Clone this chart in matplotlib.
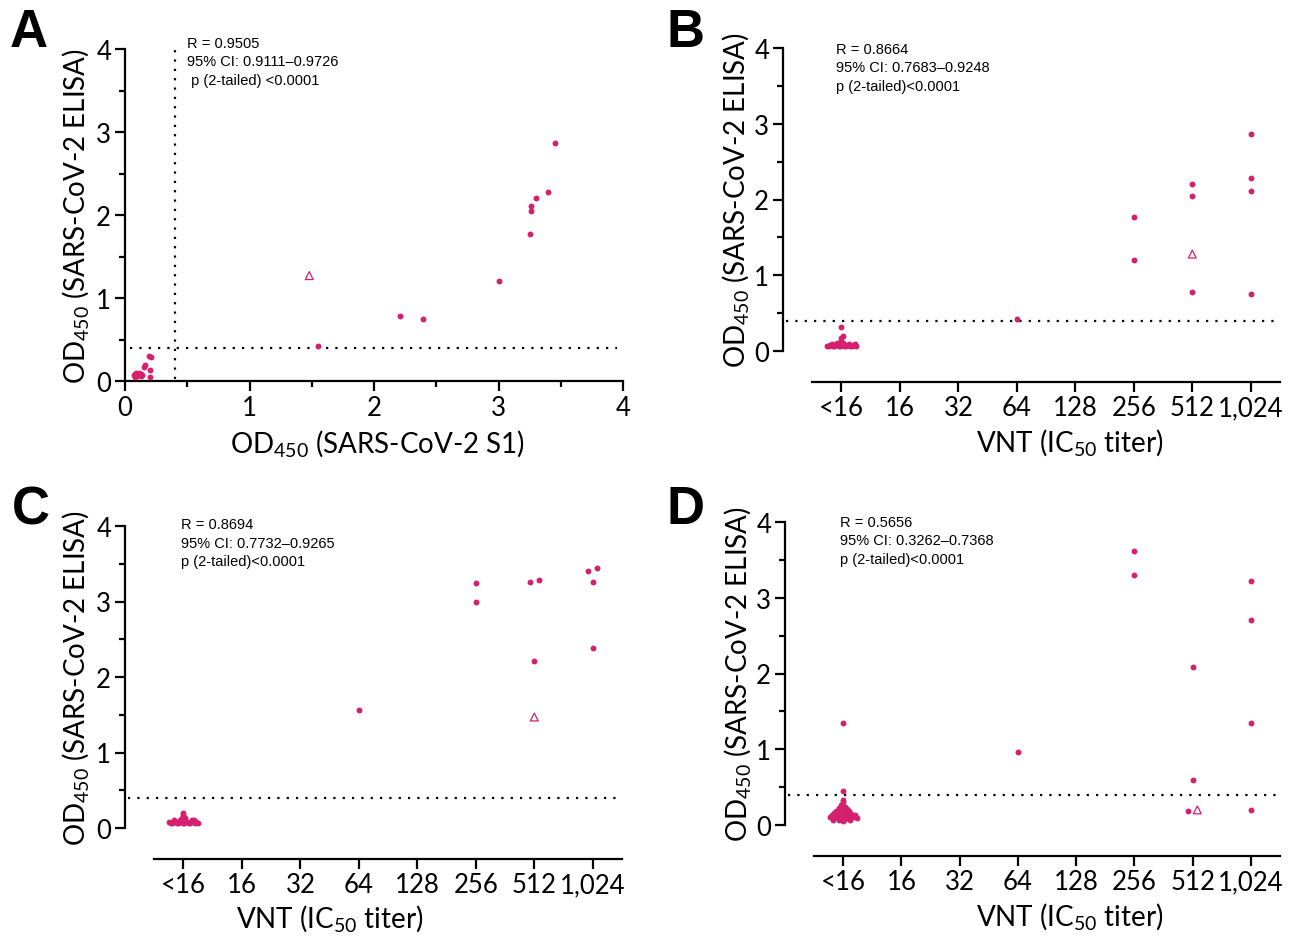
import matplotlib
matplotlib.use('Agg')
import matplotlib.pyplot as plt
from matplotlib.ticker import MultipleLocator

plt.rcParams['font.family'] = ['Lato', 'DejaVu Sans']
plt.rcParams['mathtext.default'] = 'regular'

W, H = 1293, 937
PINK = '#D4206E'

cats = ['<16', '16', '32', '64', '128', '256', '512', '1,024']

# panel A: S1 OD vs ELISA OD
a_s1 = [3.45, 3.40, 3.30, 3.26, 3.26, 3.25, 3.00, 2.21, 2.39, 1.55]
a_elisa = [2.87, 2.28, 2.21, 2.11, 2.05, 1.77, 1.20, 0.78, 0.75, 0.42]
a_neg_s1 = [0.07, 0.08, 0.09, 0.10, 0.11, 0.12, 0.13, 0.14, 0.08, 0.10,
            0.12, 0.09, 0.15, 0.16, 0.19, 0.21, 0.20, 0.20, 0.11, 0.13]
a_neg_elisa = [0.07, 0.09, 0.06, 0.08, 0.10, 0.07, 0.08, 0.07, 0.05, 0.06,
               0.09, 0.10, 0.17, 0.19, 0.30, 0.29, 0.13, 0.05, 0.07, 0.06]
a_tri = (1.48, 1.27)

# panel B: VNT vs ELISA OD
b_pos = [7, 7, 7, 7, 6, 6, 6, 5, 5, 3]
b_val = [2.87, 2.29, 2.11, 0.75, 2.21, 2.05, 0.78, 1.77, 1.20, 0.42]
b_neg_off = [-0.25, -0.2, -0.15, -0.1, -0.05, 0, 0.05, 0.1, 0.15, 0.2, 0.25,
             -0.22, -0.12, -0.02, 0.08, 0.18, -0.17, 0.13, 0.23, -0.07, 0.03,
             0, 0, 0.02, 0]
b_neg_val = [0.07, 0.08, 0.07, 0.08, 0.07, 0.08, 0.07, 0.08, 0.07, 0.08, 0.07,
             0.06, 0.06, 0.06, 0.06, 0.06, 0.09, 0.09, 0.09, 0.10, 0.10,
             0.13, 0.17, 0.20, 0.32]
b_tri = (6, 1.28)

# panel C: VNT vs S1 OD
c_pos = [6.92, 7.08, 7.0, 7.0, 5.92, 6.08, 6.0, 5.0, 5.0, 3.0]
c_val = [3.40, 3.45, 3.26, 2.38, 3.26, 3.29, 2.21, 3.25, 3.00, 1.56]
c_neg_off = [-0.24, -0.19, -0.14, -0.09, -0.04, 0.01, 0.06, 0.11, 0.16, 0.21, 0.24,
             -0.21, -0.11, -0.01, 0.09, 0.19, -0.16, -0.06, 0.14, 0.18,
             -0.02, 0.02, 0.0, 0.0]
c_neg_val = [0.08, 0.07, 0.08, 0.07, 0.08, 0.07, 0.08, 0.07, 0.09, 0.08, 0.07,
             0.06, 0.06, 0.06, 0.06, 0.06, 0.10, 0.10, 0.11, 0.10,
             0.13, 0.13, 0.17, 0.20]
c_tri = (6.0, 1.47)

# panel D: VNT vs ELISA OD (second assay)
d_pos = [5, 5, 7, 7, 7, 7, 6, 6, 5.92, 3, 0, 0]
d_val = [3.62, 3.30, 3.22, 2.71, 1.35, 0.20, 2.09, 0.60, 0.18, 0.96, 1.35, 0.45]
d_neg_off = [0.0, 0.0, -0.03, 0.03, -0.08, 0.06, -0.12, 0.0, 0.1, -0.16, -0.05,
             0.05, 0.14, -0.2, -0.1, 0.0, 0.1, 0.2, -0.23, -0.14, -0.04, 0.06,
             0.16, 0.24, -0.18, -0.08, 0.02, 0.12, 0.0]
d_neg_val = [0.33, 0.30, 0.26, 0.24, 0.22, 0.21, 0.19, 0.19, 0.18, 0.16, 0.16,
             0.15, 0.15, 0.13, 0.13, 0.12, 0.12, 0.13, 0.10, 0.10, 0.09, 0.09,
             0.10, 0.09, 0.07, 0.07, 0.06, 0.07, 0.05]
d_tri = (6.08, 0.20)

stats = {
    'A': ['R = 0.9505', '95% CI: 0.9111\u20130.9726', ' p (2-tailed) <0.0001'],
    'B': ['R = 0.8664', '95% CI: 0.7683\u20130.9248', 'p (2-tailed)<0.0001'],
    'C': ['R = 0.8694', '95% CI: 0.7732\u20130.9265', 'p (2-tailed)<0.0001'],
    'D': ['R = 0.5656', '95% CI: 0.3262\u20130.7368', 'p (2-tailed)<0.0001'],
}

fig = plt.figure(figsize=(W / 100, H / 100), dpi=100)


def px_axes(left, right, top, bottom):
    return fig.add_axes([left / W, 1 - bottom / H, (right - left) / W, (bottom - top) / H])


def style(ax):
    for s in ['top', 'right']:
        ax.spines[s].set_visible(False)
    for s in ['left', 'bottom']:
        ax.spines[s].set_linewidth(1.6)
    ax.set_ylim(0, 4)
    ax.yaxis.set_major_locator(MultipleLocator(1))
    ax.yaxis.set_minor_locator(MultipleLocator(0.5))
    ax.tick_params(which='major', length=7, width=1.6, labelsize=18.5, pad=3)
    ax.tick_params(which='minor', length=4.5, width=1.6)
    ax.set_ylabel(r'OD$_{450}$ (SARS-CoV-2 ELISA)', fontsize=20, va='center')
    ax.patch.set_alpha(0)


def dotted(ax, xs, ys):
    ax.plot(xs, ys, color='black', lw=1.6, ls=(0, (1, 3.2)), zorder=1)


def vnt_panel(ax, pos, val, neg_off, neg_val, tri):
    style(ax)
    ax.set_xlim(-1, 7.5)
    ax.spines['bottom'].set_position(('outward', 22))
    ax.spines['bottom'].set_bounds(-0.5, 7.5)
    ax.spines['left'].set_bounds(0, 4)
    ax.set_xticks(range(len(cats)))
    ax.set_xticklabels(cats)
    ax.xaxis.set_minor_locator(plt.NullLocator())
    dotted(ax, [-0.95, 7.5], [0.4, 0.4])
    ax.scatter(neg_off, neg_val, s=18, color=PINK, lw=0, zorder=3, clip_on=False)
    ax.scatter(pos, val, s=18, color=PINK, lw=0, zorder=3)
    ax.scatter([tri[0]], [tri[1]], s=32, marker='^', facecolor='none',
               edgecolor=PINK, lw=0.9, zorder=3)
    ax.set_xlabel(r'VNT (IC$_{50}$ titer)', fontsize=20, va='center')


# A
axA = px_axes(125, 623, 50, 382)
style(axA)
axA.set_xlim(0, 4)
axA.xaxis.set_major_locator(MultipleLocator(1))
axA.xaxis.set_minor_locator(MultipleLocator(0.5))
dotted(axA, [0.04, 3.95], [0.4, 0.4])
dotted(axA, [0.4, 0.4], [0.03, 4.0])
axA.scatter(a_neg_s1, a_neg_elisa, s=18, color=PINK, lw=0, zorder=3)
axA.scatter(a_s1, a_elisa, s=18, color=PINK, lw=0, zorder=3)
axA.scatter([a_tri[0]], [a_tri[1]], s=32, marker='^', facecolor='none',
            edgecolor=PINK, lw=0.9, zorder=3)
axA.set_xlabel(r'OD$_{450}$ (SARS-CoV-2 S1)', fontsize=20, va='center')
axA.xaxis.set_label_coords(0.508, -0.184)
axA.yaxis.set_label_coords(-0.1, 0.5)

# B
axB = px_axes(783, 1280, 49, 352)
vnt_panel(axB, b_pos, b_val, b_neg_off, b_neg_val, b_tri)
axB.xaxis.set_label_coords(0.577, -0.30)
axB.yaxis.set_label_coords(-0.095, 0.5)

# C
axC = px_axes(125, 622, 527, 829)
vnt_panel(axC, c_pos, c_val, c_neg_off, c_neg_val, c_tri)
axC.xaxis.set_label_coords(0.412, -0.295)
axC.yaxis.set_label_coords(-0.1, 0.5)

# D
axD = px_axes(785, 1280, 523, 826)
vnt_panel(axD, d_pos, d_val, d_neg_off, d_neg_val, d_tri)
axD.xaxis.set_label_coords(0.576, -0.30)
axD.yaxis.set_label_coords(-0.095, 0.5)

# stats text
stat_xy = {'A': (187, 44), 'B': (836, 50), 'C': (181, 525), 'D': (840, 523)}
for key, (x, y) in stat_xy.items():
    for i, line in enumerate(stats[key]):
        fig.text(x / W, 1 - (y + i * 18.5) / H, line, fontsize=10.5,
                 family=['Liberation Sans', 'DejaVu Sans'], va='center', ha='left')

# panel letters
letter_xy = {'A': (10, 33), 'B': (667, 33), 'C': (12, 511), 'D': (667, 510)}
for key, (x, y) in letter_xy.items():
    fig.text(x / W, 1 - y / H, key, fontsize=38, weight='bold',
             family=['Liberation Sans', 'DejaVu Sans'], va='center', ha='left')

fig.savefig('out.png', dpi=100)
